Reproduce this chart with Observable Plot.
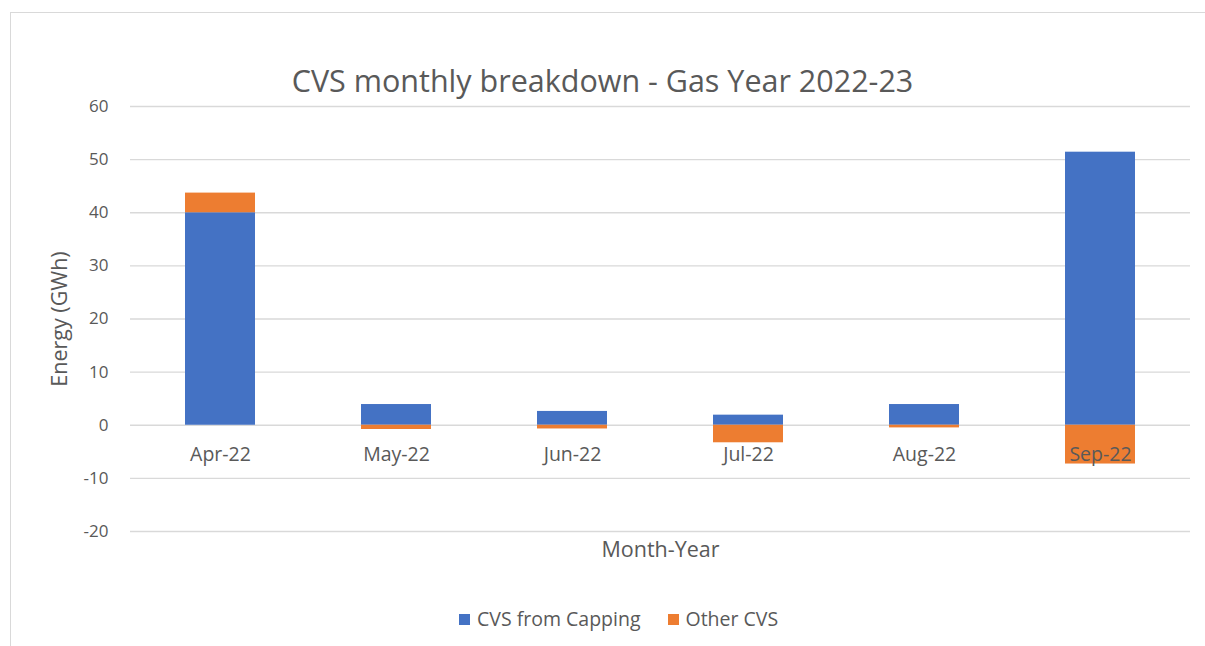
<!DOCTYPE html>
<html>
<head>
<meta charset="utf-8">
<script src="https://cdn.jsdelivr.net/npm/d3@7"></script>
<script src="https://cdn.jsdelivr.net/npm/@observablehq/plot@0.6"></script>
<style>
  body { margin: 0; background: #fff; font-family: "Open Sans", sans-serif; color: #595959; }
  #frame { position: absolute; left: 10px; top: 12px; width: 1210px; height: 650px; border: 1px solid #d9d9d9; box-sizing: border-box; }
  #title { position: absolute; left: 0; top: 58px; width: 1205px; text-align: center; font-size: 30.5px; line-height: 44px; }
  #chart { position: absolute; left: 0; top: 90px; }
  #legend { position: absolute; left: 459px; top: 605px; display: flex; align-items: center; font-size: 19.5px; line-height: 28px; }
  .sw { display: inline-block; width: 11px; height: 11px; margin-right: 7px; }
  .item { display: flex; align-items: center; margin-right: 27px; }
</style>
</head>
<body>
<div id="frame"></div>
<div id="title">CVS monthly breakdown - Gas Year 2022-23</div>
<div id="chart"></div>
<div id="legend"></div>
<script>
const months = ["Apr-22", "May-22", "Jun-22", "Jul-22", "Aug-22", "Sep-22"];
const cappingValues = [40.0, 3.9, 2.6, 1.9, 3.9, 51.4];
const otherValues = [3.7, -0.8, -0.7, -3.3, -0.5, -7.3];
const seriesNames = ["CVS from Capping", "Other CVS"];
const seriesColors = ["#4472C4", "#ED7D31"];
const yTicks = [-20, -10, 0, 10, 20, 30, 40, 50, 60];

const rows = [];
months.forEach((m, i) => {
  rows.push({month: m, series: seriesNames[0], value: cappingValues[i]});
  rows.push({month: m, series: seriesNames[1], value: otherValues[i]});
});

const chart = Plot.plot({
  width: 1205,
  height: 480,
  marginTop: 16,
  marginBottom: 39,
  marginLeft: 130,
  marginRight: 15,
  style: {fontFamily: "'Open Sans', sans-serif", fontSize: "16px", color: "#595959", background: "transparent"},
  x: {domain: months, paddingInner: 0.6, paddingOuter: 0.3, axis: null},
  y: {domain: [-20, 60]},
  color: {domain: seriesNames, range: seriesColors},
  marks: [
    Plot.gridY(yTicks, {stroke: "#d9d9d9", strokeOpacity: 1, strokeWidth: 1.3}),
    Plot.axisY(yTicks, {tickSize: 0, tickPadding: 22, label: null, fontSize: 17, tickFormat: d => String(d)}),
    Plot.barY(rows, Plot.stackY({x: "month", y: "value", fill: "series", order: seriesNames})),
    Plot.text(months, {x: d => d, y: 0, dy: 29, fill: "#595959", fontSize: 19.5}),
    Plot.text(["Month-Year"], {frameAnchor: "bottom", dy: 25, fill: "#595959", fontSize: 21.5}),
    Plot.text(["Energy (GWh)"], {frameAnchor: "left", dx: -70, rotate: -90, textAnchor: "middle", fill: "#595959", fontSize: 21.5})
  ]
});
document.getElementById("chart").appendChild(chart);

const legend = document.getElementById("legend");
seriesNames.forEach((name, i) => {
  const item = document.createElement("div");
  item.className = "item";
  const sw = document.createElement("span");
  sw.className = "sw";
  sw.style.background = seriesColors[i];
  item.appendChild(sw);
  item.appendChild(document.createTextNode(name));
  legend.appendChild(item);
});
</script>
</body>
</html>
